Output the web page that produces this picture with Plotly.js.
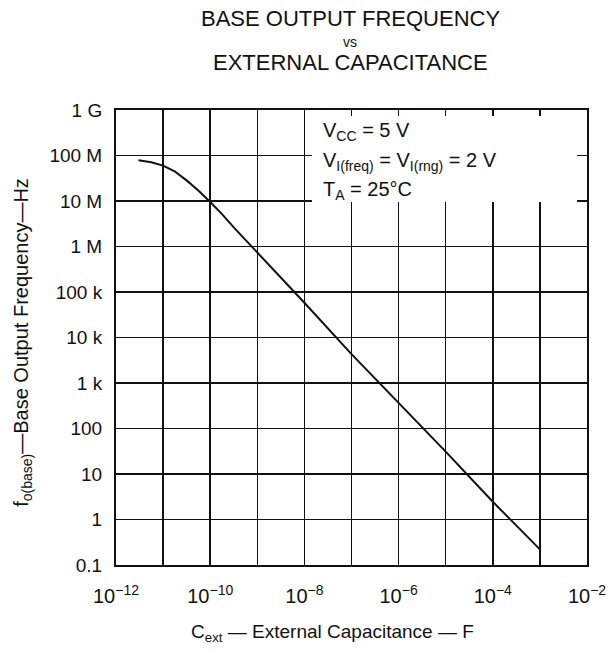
<!DOCTYPE html>
<html>
<head>
<meta charset="utf-8">
<script src="https://cdn.plot.ly/plotly-3.0.1.min.js"></script>
<style>html,body{margin:0;padding:0;background:#fff;}#chart{width:609px;height:652px;}</style>
</head>
<body>
<div id="chart"></div>
<script>
// Curve
const capacitance = [3e-12, 5.6e-12, 1e-11, 1.8e-11, 3.2e-11, 5.6e-11, 1e-10, 1.8e-10, 3.2e-10, 5.6e-10, 1e-9, 1e-8, 1e-7, 1e-6, 1e-5, 1e-4, 1e-3];
const frequency   = [7.9e7, 7.1e7, 6.0e7, 4.4e7, 2.8e7, 1.7e7, 9.5e6, 5.1e6, 2.6e6, 1.4e6, 7.6e5, 5.8e4, 4.3e3, 363, 31, 2.45, 0.22];

// Axis ticks
const xTickVals = [1e-12, 1e-10, 1e-8, 1e-6, 1e-4, 1e-2];
const xTickText = ["10<sup>\u221212</sup>", "10<sup>\u221210</sup>", "10<sup>\u22128</sup>",
                   "10<sup>\u22126</sup>", "10<sup>\u22124</sup>", "10<sup>\u22122</sup>"];
const xMinorVals = [1e-11, 1e-9, 1e-7, 1e-5, 1e-3];
const yTickVals = [0.1, 1, 10, 100, 1e3, 1e4, 1e5, 1e6, 1e7, 1e8, 1e9];
const yTickText = ["0.1", "1", "10", "100", "1 k", "10 k", "100 k", "1 M", "10 M", "100 M", "1 G"];

const titleLines = ["BASE OUTPUT FREQUENCY", "vs", "EXTERNAL CAPACITANCE"];
const NB = "\u00A0";
const conditionLines = ["V<sub>CC</sub>" + NB + "=" + NB + "5" + NB + "V",
                        "V<sub>I(freq)</sub>" + NB + "=" + NB + "V<sub>I(rng)</sub>" + NB + "=" + NB + "2" + NB + "V",
                        "T<sub>A</sub>" + NB + "=" + NB + "25\u00B0C"];
const xTitle = "C<sub>ext</sub> \u2014 External" + NB + "Capacitance \u2014 F";
const yTitle = "f<sub>o(base)</sub>\u2014Base Output Frequency\u2014Hz";

const FONT = "Liberation Sans, Arial, Helvetica, sans-serif";
const INK = "#111";

const trace = {
  x: capacitance, y: frequency, type: "scatter", mode: "lines",
  line: {color: INK, width: 2},
  hoverinfo: "skip", showlegend: false
};

const axisCommon = {
  type: "log", showgrid: true, gridcolor: INK, gridwidth: 1.5,
  showline: true, linecolor: INK, linewidth: 2, mirror: true,
  zeroline: false, ticks: "", tickmode: "array", fixedrange: true
};

const annotations = [];
const titleY = [1.202, 1.149, 1.105];
const titleSize = [22, 14, 22];
titleLines.forEach((t, i) => annotations.push({
  text: t, xref: "paper", yref: "paper", x: 0.497, y: titleY[i],
  xanchor: "center", yanchor: "middle", showarrow: false,
  font: {family: FONT, size: titleSize[i], color: INK}
}));
const condY = [0.952, 0.886, 0.822];
conditionLines.forEach((t, i) => annotations.push({
  text: t, xref: "paper", yref: "paper", x: 0.435, y: condY[i],
  xanchor: "left", yanchor: "middle", showarrow: false,
  font: {family: FONT, size: 20, color: INK}
}));
annotations.push({
  text: xTitle, xref: "paper", yref: "paper", x: 0.46, y: -0.149,
  xanchor: "center", yanchor: "middle", showarrow: false,
  font: {family: FONT, size: 19, color: INK}
});
annotations.push({
  text: yTitle, xref: "paper", yref: "paper", x: -0.2, y: 0.49,
  xanchor: "center", yanchor: "middle", showarrow: false, textangle: -90,
  font: {family: FONT, size: 20, color: INK}
});

const layout = {
  width: 609, height: 652,
  margin: {l: 116, r: 22, t: 110, b: 87, pad: 0},
  paper_bgcolor: "#fff", plot_bgcolor: "#fff",
  xaxis: Object.assign({}, axisCommon, {
    range: [-12, -2], tickvals: xTickVals, ticktext: xTickText,
    ticklabelstandoff: 12, tickfont: {family: FONT, size: 20, color: INK},
    minor: {tickmode: "array", tickvals: xMinorVals, showgrid: true, gridcolor: INK, gridwidth: 1.5, ticks: ""}
  }),
  yaxis: Object.assign({}, axisCommon, {
    range: [-1, 9], tickvals: yTickVals, ticktext: yTickText,
    ticklabelstandoff: 8, tickfont: {family: FONT, size: 19, color: INK}
  }),
  shapes: [{
    type: "rect", xref: "paper", yref: "paper", layer: "above",
    x0: 0.416, x1: 0.979, y0: 0.798, y1: 0.987,
    fillcolor: "#fff", line: {width: 0}
  }],
  annotations: annotations
};

Plotly.newPlot("chart", [trace], layout, {displayModeBar: false, staticPlot: true});
</script>
</body>
</html>
